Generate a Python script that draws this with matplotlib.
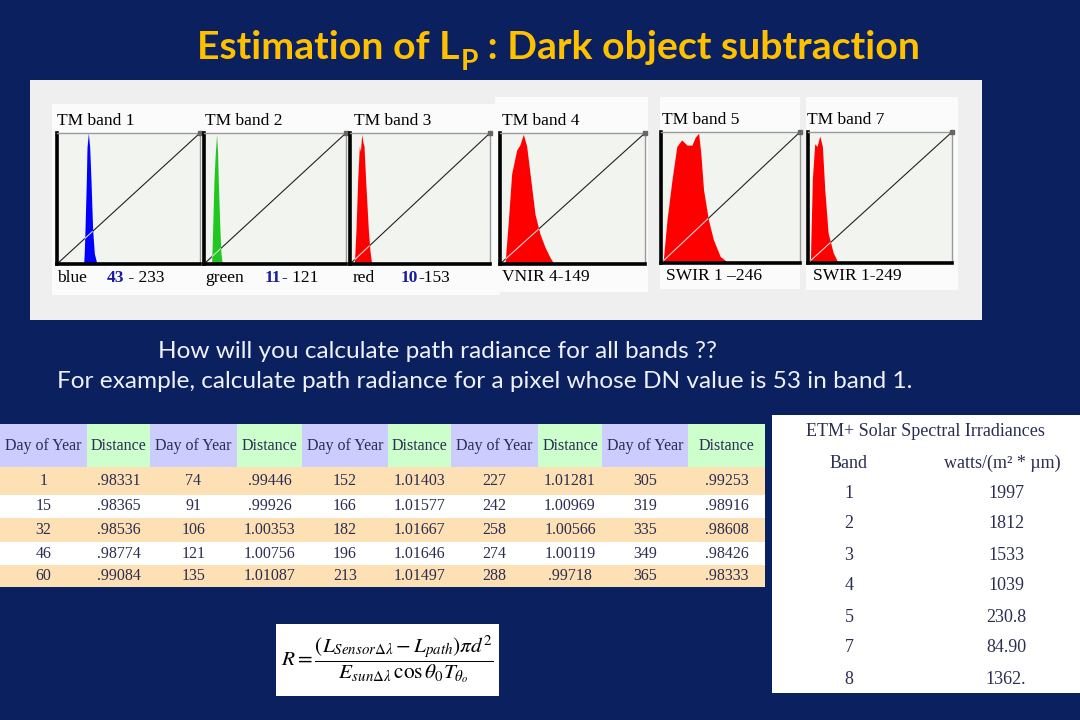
import matplotlib
matplotlib.use('Agg')
import matplotlib.pyplot as plt
from matplotlib.patches import Rectangle

W, H = 1080, 720
NAVY = '#0b205f'
GOLD = '#FFC000'
TXT = '#2b2d52'

# ---------------- data ----------------
title_parts = ["Estimation of L", "P", " : Dark object subtraction"]
question_lines = ["How will you calculate path radiance for all bands ??",
                  "For example, calculate path radiance for a pixel whose DN value is 53 in band 1."]

band_titles = ["TM band 1", "TM band 2", "TM band 3", "TM band 4", "TM band 5", "TM band 7"]
band_colors = ['#0000ff', '#1ec81e', '#ff0000', '#ff0000', '#ff0000', '#ff0000']

# histogram outlines (DN, relative frequency)
b1_dn = [47.6, 48.7, 49.9, 52.3, 53.5, 55.9, 58.3, 60.6, 63.6, 66.6, 71.3]
b1_h = [0, 0.10, 0.26, 0.64, 0.89, 1.00, 0.89, 0.64, 0.26, 0.08, 0]
b2_dn = [13.7, 15.5, 17.9, 20.3, 22.6, 24.4, 25.6, 28.6, 30.5, 32.8]
b2_h = [0, 0.26, 0.64, 0.85, 0.99, 0.85, 0.64, 0.26, 0.08, 0]
b3_dn = [7.9, 10.9, 14.0, 17.0, 19.0, 21.3, 23.5, 25.5, 28.5, 33.4, 36.4, 39.5]
b3_h = [0, 0.26, 0.64, 0.90, 0.86, 0.99, 0.93, 0.90, 0.64, 0.26, 0.10, 0]
b4_dn = [8.8, 14.7, 20.5, 29.3, 35.0, 41.0, 46.9, 52.8, 61.6, 70.3, 79.0, 88.0, 95.0]
b4_h = [0, 0.33, 0.69, 0.87, 0.91, 0.99, 0.90, 0.69, 0.38, 0.23, 0.13, 0.05, 0]
b5_dn = [3.7, 11.0, 20.0, 29.0, 38.0, 47.6, 56.7, 62.8, 69.0, 73.0, 78.0, 87.0, 96.0, 108.6, 124.0]
b5_h = [0, 0.33, 0.63, 0.89, 0.94, 0.90, 0.90, 0.96, 0.99, 0.84, 0.56, 0.33, 0.18, 0.05, 0]
b7_dn = [4.2, 7.7, 11.9, 16.0, 20.8, 25.5, 29.7, 35.6, 44.5, 53.4]
b7_h = [0, 0.64, 0.91, 0.89, 0.97, 0.89, 0.56, 0.23, 0.08, 0]
hist_dn = [b1_dn, b2_dn, b3_dn, b4_dn, b5_dn, b7_dn]
hist_h = [b1_h, b2_h, b3_h, b4_h, b5_h, b7_h]

# bottom captions: (name, highlighted min DN, rest)
band_caps = [("blue", "43", " - 233"), ("green", "11", "- 121"), ("red", "10", "-153"),
             ("VNIR 4-149", "", ""), ("SWIR 1 \u2013246", "", ""), ("SWIR 1-249", "", "")]

# Earth-Sun distance table
day_of_year = [[1, 15, 32, 46, 60],
               [74, 91, 106, 121, 135],
               [152, 166, 182, 196, 213],
               [227, 242, 258, 274, 288],
               [305, 319, 335, 349, 365]]
distance = [[0.98331, 0.98365, 0.98536, 0.98774, 0.99084],
            [0.99446, 0.99926, 1.00353, 1.00756, 1.01087],
            [1.01403, 1.01577, 1.01667, 1.01646, 1.01497],
            [1.01281, 1.00969, 1.00566, 1.00119, 0.99718],
            [0.99253, 0.98916, 0.98608, 0.98426, 0.98333]]

# ETM+ solar irradiance table
irr_bands = ["1", "2", "3", "4", "5", "7", "8"]
irr_values = ["1997", "1812", "1533", "1039", "230.8", "84.90", "1362."]

formula = (r'$R=\dfrac{(L_{Sensor\Delta\lambda}-L_{path})\pi d^2}'
           r'{E_{sun\Delta\lambda}\,\cos\theta_0 T_{\theta_o}}$')

# ---------------- layout ----------------
fig = plt.figure(figsize=(W / 100, H / 100), dpi=100)
fig.patch.set_facecolor(NAVY)
bg = fig.add_axes([0, 0, 1, 1])
bg.set_xlim(0, W)
bg.set_ylim(H, 0)
bg.axis('off')
renderer = fig.canvas.get_renderer()


def rect(x0, y0, x1, y1, color, z=0):
    bg.add_patch(Rectangle((x0, y0), x1 - x0, y1 - y0, facecolor=color,
                           edgecolor='none', zorder=z))


def width_of(t):
    return t.get_window_extent(renderer).width


def px_axes(x0, y0, x1, y1):
    return fig.add_axes([x0 / W, 1 - y1 / H, (x1 - x0) / W, (y1 - y0) / H])


# ---- title ----
def draw_title(size, x0, y):
    arts = []
    x = x0
    t = bg.text(x, y, title_parts[0], fontsize=size, family='Lato', weight='bold',
                color=GOLD, va='baseline', ha='left')
    arts.append(t); x += width_of(t) + 1
    t = bg.text(x, y + 11, title_parts[1], fontsize=size * 0.72, family='Lato',
                weight='bold', color=GOLD, va='baseline', ha='left')
    arts.append(t); x += width_of(t)
    t = bg.text(x, y, title_parts[2], fontsize=size, family='Lato', weight='bold',
                color=GOLD, va='baseline', ha='left')
    arts.append(t); x += width_of(t)
    return arts, x - x0


arts, wtot = draw_title(22, 197, 59)
for a in arts:
    a.remove()
size_t = 22 * 723 / wtot
draw_title(size_t, 197, 59)

# ---- question lines ----
t = bg.text(57, 382, question_lines[1], fontsize=15, family='Lato', color='#eef1fa',
            va='center', ha='left')
qs = 15 * 855 / width_of(t)
t.set_fontsize(qs)
bg.text(158, 351, question_lines[0], fontsize=qs, family='Lato', color='#eef1fa',
        va='center', ha='left')

# ---- histogram panel ----
rect(30, 80, 982, 320, '#efefef')
rect(52, 104, 500, 295, '#fbfbfb')
rect(495, 97, 648, 292, '#fbfbfb')
rect(660, 97, 800, 289, '#fbfbfb')
rect(806, 97, 958, 290, '#fbfbfb')

boxes = [(57, 133, 200, 264), (204, 133, 346, 264), (350, 133, 490, 264),
         (500, 133, 645, 264), (661, 132, 800, 263), (808, 132, 952, 263)]
title_pos = [(57, 121), (205, 121), (354, 121), (502, 121), (662, 120), (807, 120)]
cap_pos = [(57, 278), (205, 278), (353, 278), (502, 277), (666, 276), (813, 276)]
num_x = [107, 265, 401, None, None, None]

for i in range(6):
    ax = px_axes(*boxes[i])
    ax.set_facecolor('#f2f4f0')
    ax.set_xlim(0, 255)
    ax.set_ylim(0, 1.0)
    ax.set_xticks([]); ax.set_yticks([])
    for s in ('left', 'bottom'):
        ax.spines[s].set_color('black'); ax.spines[s].set_linewidth(2.6)
    for s in ('top', 'right'):
        ax.spines[s].set_color('#9a9a9a'); ax.spines[s].set_linewidth(1.0)
    ax.plot([0, 255], [0, 1], color='#222222', lw=0.8, zorder=1)
    poly = ax.fill_between(hist_dn[i], 0, hist_h[i], color=band_colors[i], lw=0, zorder=2)
    l2, = ax.plot([0, 255], [0, 1], color='#d9d9d9', lw=0.8, zorder=3)
    l2.set_clip_path(poly.get_paths()[0], ax.transData)
    ax.plot([255], [1], marker='s', ms=2.5, color='#666666', clip_on=False, zorder=4)

    bg.text(title_pos[i][0], title_pos[i][1], band_titles[i], fontsize=12.5,
            family='Liberation Serif', color='black', va='center', ha='left')
    name, num, rest = band_caps[i]
    cx, cy = cap_pos[i]
    bg.text(cx, cy, name, fontsize=12.5, family='Liberation Serif', color='black',
            va='center', ha='left')
    if num:
        tn = bg.text(num_x[i], cy, num, fontsize=12.5, family='Liberation Serif',
                     weight='bold', color='#1a1aa0', va='center', ha='left')
        bg.text(num_x[i] + width_of(tn), cy, rest, fontsize=12.5, family='Liberation Serif',
                color='black', va='center', ha='left')

# ---- distance table ----
cols = [0, 87, 150, 237, 302, 388, 451, 538, 602, 688, 765]
rows = [424, 467, 495, 518, 542, 565, 587]
TFS = 11.5
for j in range(10):
    c = '#ccccff' if j % 2 == 0 else '#ccffcc'
    rect(cols[j], rows[0], cols[j + 1], rows[1], c)
    bg.text((cols[j] + cols[j + 1]) / 2, (rows[0] + rows[1]) / 2,
            "Day of Year" if j % 2 == 0 else "Distance", fontsize=TFS,
            family='Liberation Serif', color=TXT, ha='center', va='center')
for r in range(5):
    c = '#fde0b4' if r % 2 == 0 else 'white'
    rect(0, rows[r + 1], cols[-1], rows[r + 2], c)
    yc = (rows[r + 1] + rows[r + 2]) / 2
    for k in range(5):
        d = day_of_year[k][r]
        v = distance[k][r]
        s = f"{v:.5f}"
        if s.startswith('0'):
            s = s[1:]
        bg.text((cols[2 * k] + cols[2 * k + 1]) / 2, yc, str(d), fontsize=TFS,
                family='Liberation Serif', color=TXT, ha='center', va='center')
        bg.text((cols[2 * k + 1] + cols[2 * k + 2]) / 2, yc, s, fontsize=TFS,
                family='Liberation Serif', color=TXT, ha='center', va='center')

# ---- irradiance table ----
rect(772, 415, 1080, 693, 'white')
bg.text(925, 432, "ETM+ Solar Spectral Irradiances", fontsize=13, family='Liberation Serif',
        color=TXT, ha='center', va='center')
bg.text(849, 463, "Band", fontsize=13, family='Liberation Serif', color=TXT,
        ha='center', va='center')
bg.text(1002, 463, "watts/(m\u00b2 * \u00b5m)", fontsize=13, family='Liberation Serif',
        color=TXT, ha='center', va='center')
for i in range(len(irr_bands)):
    y = 493 + 31 * i
    bg.text(849, y, irr_bands[i], fontsize=13, family='Liberation Serif', color=TXT,
            ha='center', va='center')
    bg.text(1006, y, irr_values[i], fontsize=13, family='Liberation Serif', color=TXT,
            ha='center', va='center')

# ---- formula ----
rect(276, 624, 499, 696, 'white')
tf = bg.text(387, 660, formula, fontsize=14, math_fontfamily='stix', color='black',
             ha='center', va='center')
fs = 14 * 214 / width_of(tf)
tf.set_fontsize(fs)

fig.savefig('out.png', dpi=100, facecolor=NAVY)
